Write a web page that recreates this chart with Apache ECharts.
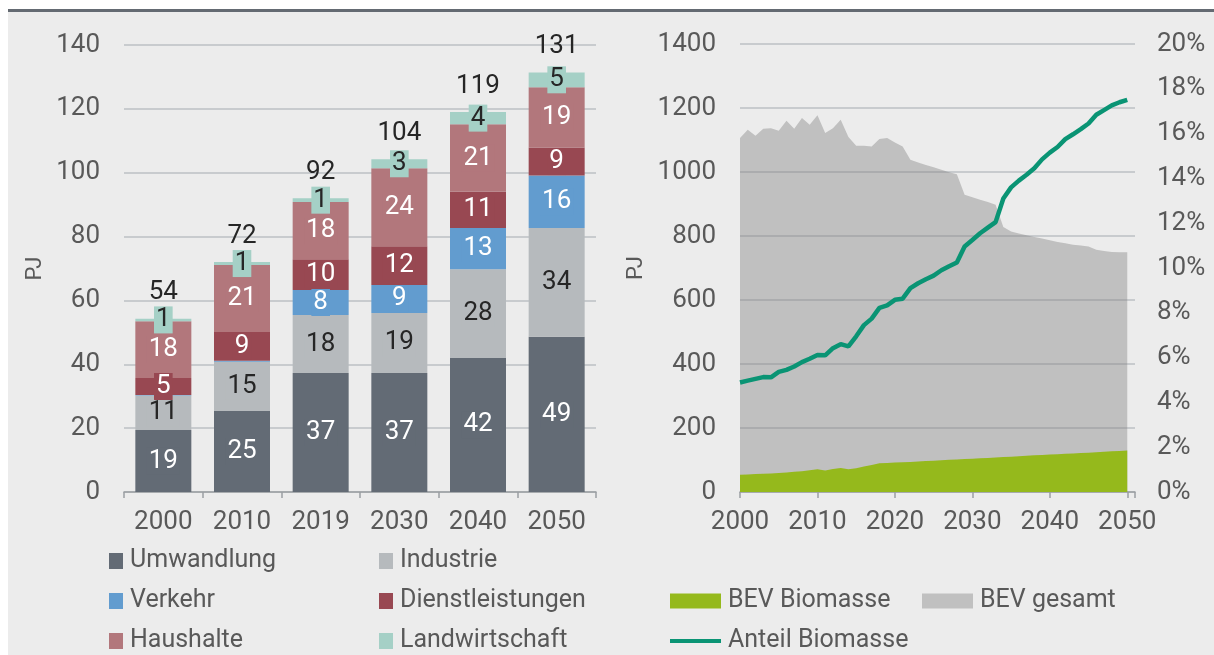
<!DOCTYPE html>
<html>
<head>
<meta charset="utf-8">
<script src="https://cdn.jsdelivr.net/npm/echarts@6/dist/echarts.min.js"></script>
<style>
  html, body { margin: 0; padding: 0; background: #fff; }
  #wrap { position: relative; width: 1214px; height: 655px; overflow: hidden; }
  #panel { position: absolute; left: 8px; top: 12px; right: 0; bottom: 0; background: #ececec; }
  #rule { position: absolute; left: 8px; top: 9px; right: 0; height: 3px; background: #646a72; }
  #chart { position: absolute; left: 0; top: 0; width: 1214px; height: 655px; }
</style>
</head>
<body>
<div id="wrap">
  <div id="panel"></div>
  <div id="rule"></div>
  <div id="chart"></div>
</div>
<script>
// linkes Diagramm: Endenergie Biomasse nach Sektoren (PJ)
const categories = ['2000', '2010', '2019', '2030', '2040', '2050']
const umwandlung = [19.4, 25.4, 37.3, 37.3, 42.0, 48.6]
const industrie = [10.8, 15.4, 18.1, 18.8, 27.8, 34.1]
const verkehr = [0.2, 0.3, 7.9, 8.7, 12.9, 16.4]
const dienstleistungen = [5.3, 9.0, 9.6, 12.2, 11.3, 8.8]
const haushalte = [17.8, 21.0, 17.9, 24.4, 21.2, 18.9]
const landwirtschaft = [0.8, 0.9, 1.2, 2.8, 3.8, 4.6]

// rechtes Diagramm: BEV gesamt / Biomasse (PJ) und Anteil Biomasse (%)
const years = [
  2000, 2001, 2002, 2003, 2004, 2005, 2006, 2007, 2008, 2009,
  2010, 2011, 2012, 2013, 2014, 2015, 2016, 2017, 2018, 2019,
  2020, 2021, 2022, 2023, 2024, 2025, 2026, 2027, 2028, 2029,
  2030, 2031, 2032, 2033, 2034, 2035, 2036, 2037, 2038, 2039,
  2040, 2041, 2042, 2043, 2044, 2045, 2046, 2047, 2048, 2049, 2050
]
const bevGesamt = [
  1106, 1132, 1113, 1135, 1137, 1129, 1160, 1135, 1169, 1148,
  1177, 1122, 1137, 1163, 1109, 1082, 1082, 1080, 1103, 1106,
  1092, 1080, 1038, 1030, 1022, 1015, 1007, 999, 993, 929,
  921, 913, 906, 898, 828, 814, 808, 802, 797, 792,
  787, 781, 777, 773, 770, 767, 757, 753, 750, 749, 749
]
const bevBiomasse = [
  54, 55, 56, 57, 58, 59, 61, 63, 65, 68,
  71, 67, 72, 75, 71, 74, 80, 84, 90, 91,
  92, 93, 94, 95.5, 96.5, 98, 99, 100.5, 101.5, 103,
  104, 105.5, 106.5, 108, 109, 110.5, 112, 113, 114.5, 115.5,
  117, 118, 119.5, 120.5, 122, 123, 124.5, 125.5, 127, 128, 130
]
const anteilBiomasse = [
  4.89, 4.97, 5.05, 5.13, 5.12, 5.36, 5.45, 5.60, 5.80, 5.95,
  6.12, 6.10, 6.42, 6.60, 6.50, 6.95, 7.45, 7.74, 8.22, 8.33,
  8.58, 8.63, 9.10, 9.32, 9.50, 9.66, 9.90, 10.08, 10.25, 10.96,
  11.25, 11.55, 11.80, 12.05, 13.10, 13.60, 13.90, 14.16, 14.45, 14.85,
  15.15, 15.40, 15.75, 15.97, 16.20, 16.45, 16.84, 17.05, 17.26, 17.40, 17.51
]

const FONT = 'Roboto'
const TXT = '#595959'
const DARK = '#262626'

const sectors = [
  { name: 'Umwandlung', data: umwandlung, color: '#636b75', text: '#fff' },
  { name: 'Industrie', data: industrie, color: '#b6babd', text: DARK },
  { name: 'Verkehr', data: verkehr, color: '#629ccf', text: '#fff' },
  { name: 'Dienstleistungen', data: dienstleistungen, color: '#984852', text: '#fff' },
  { name: 'Haushalte', data: haushalte, color: '#b2777c', text: '#fff' },
  { name: 'Landwirtschaft', data: landwirtschaft, color: '#a5d0c6', text: DARK }
]
const totals = categories.map((_, i) => sectors.reduce((s, d) => s + d.data[i], 0))

const barSeries = sectors.map(s => ({
  name: s.name,
  type: 'bar',
  stack: 'sum',
  xAxisIndex: 0,
  yAxisIndex: 0,
  barWidth: 56,
  itemStyle: { color: s.color },
  data: s.data.map(v => ({ value: v, label: { show: v >= 0.5 } })),
  label: {
    position: 'inside',
    color: s.text,
    fontFamily: FONT,
    fontSize: 26,
    backgroundColor: s.color,
    padding: [1, 2, 0, 2],
    formatter: p => Math.round(p.value)
  }
}))

// unsichtbare Serie nur für die Summen über den Säulen
barSeries.push({
  name: 'Summe',
  type: 'bar',
  stack: 'sum',
  barWidth: 56,
  data: categories.map(() => 0),
  itemStyle: { color: 'transparent' },
  label: {
    show: true,
    position: 'top',
    distance: 13,
    color: DARK,
    fontFamily: FONT,
    fontSize: 26,
    formatter: p => Math.round(totals[p.dataIndex])
  }
})

const axisText = { color: TXT, fontFamily: FONT, fontSize: 26 }
const splitLine = { show: true, lineStyle: { color: '#bcc0c4', width: 1.5 } }
const axisLine = { show: true, lineStyle: { color: '#9a9ea3', width: 1.5 } }

// eine Legende je Eintrag, damit die Positionen wie im Original sitzen
function legendItem(name, left, top, w, h) {
  return {
    left, top, padding: 0, itemWidth: w, itemHeight: h, icon: 'rect',
    data: [name],
    textStyle: { color: TXT, fontFamily: FONT, fontSize: 25, lineHeight: 30, padding: [0, 0, 0, 2] }
  }
}

const chart = echarts.init(document.getElementById('chart'))
chart.setOption({
  backgroundColor: 'transparent',
  animation: false,
  textStyle: { fontFamily: FONT },
  grid: [
    { left: 124, right: 618, top: 45, bottom: 163 },
    { left: 740, right: 79, top: 44, bottom: 163 }
  ],
  xAxis: [
    {
      gridIndex: 0,
      type: 'category',
      data: categories,
      axisLine,
      axisTick: { show: true, length: 6, lineStyle: { color: '#9a9ea3', width: 1.5 } },
      axisLabel: { ...axisText, margin: 17 }
    },
    {
      gridIndex: 1,
      type: 'value',
      min: 2000,
      max: 2051,
      interval: 10,
      splitLine: { show: false },
      axisLine,
      axisTick: { show: true, length: 6, lineStyle: { color: '#9a9ea3', width: 1.5 } },
      axisLabel: { ...axisText, margin: 17, formatter: v => (v % 10 === 0 ? String(v) : '') }
    }
  ],
  yAxis: [
    {
      gridIndex: 0,
      type: 'value',
      min: 0,
      max: 140,
      interval: 20,
      name: 'PJ',
      nameLocation: 'middle',
      nameGap: 78,
      nameTextStyle: { color: TXT, fontFamily: FONT, fontSize: 22 },
      axisLine: { show: false },
      axisTick: { show: false },
      splitLine,
      axisLabel: { ...axisText, margin: 24 }
    },
    {
      gridIndex: 1,
      type: 'value',
      min: 0,
      max: 1400,
      interval: 200,
      name: 'PJ',
      nameLocation: 'middle',
      nameGap: 93,
      nameTextStyle: { color: TXT, fontFamily: FONT, fontSize: 22 },
      axisLine: { show: false },
      axisTick: { show: false },
      splitLine,
      axisLabel: { ...axisText, margin: 24, formatter: v => String(v) }
    },
    {
      gridIndex: 1,
      type: 'value',
      position: 'right',
      min: 0,
      max: 20,
      interval: 2,
      axisLine: { show: false },
      axisTick: { show: false },
      splitLine: { show: false },
      axisLabel: { ...axisText, margin: 22, formatter: v => v + '%' }
    }
  ],
  legend: [
    legendItem('Umwandlung', 109, 546, 14, 16),
    legendItem('Verkehr', 109, 586, 14, 16),
    legendItem('Haushalte', 109, 626, 14, 16),
    legendItem('Industrie', 379, 546, 14, 16),
    legendItem('Dienstleistungen', 379, 586, 14, 16),
    legendItem('Landwirtschaft', 379, 626, 14, 16),
    legendItem('BEV Biomasse', 670, 586, 51, 15),
    legendItem('BEV gesamt', 922, 586, 51, 15),
    legendItem('Anteil Biomasse', 670, 626, 51, 4)
  ],
  series: [
    ...barSeries,
    {
      name: 'BEV gesamt',
      type: 'line',
      xAxisIndex: 1,
      yAxisIndex: 1,
      symbol: 'none',
      lineStyle: { width: 0 },
      // halbtransparent, damit die Gitterlinien wie im Original durchscheinen
      itemStyle: { color: '#c0c0c0' },
      areaStyle: { color: 'rgb(128,128,128)', opacity: 0.41 },
      data: years.map((y, i) => [y, bevGesamt[i]])
    },
    {
      name: 'BEV Biomasse',
      type: 'line',
      xAxisIndex: 1,
      yAxisIndex: 1,
      symbol: 'none',
      lineStyle: { width: 0 },
      itemStyle: { color: '#95b91c' },
      areaStyle: { color: '#95b91c', opacity: 1 },
      data: years.map((y, i) => [y, bevBiomasse[i]])
    },
    {
      name: 'Anteil Biomasse',
      type: 'line',
      xAxisIndex: 1,
      yAxisIndex: 2,
      z: 5,
      symbol: 'none',
      itemStyle: { color: '#0a9474' },
      lineStyle: { color: '#0a9474', width: 4.5 },
      data: years.map((y, i) => [y, anteilBiomasse[i]])
    }
  ]
})
</script>
</body>
</html>
